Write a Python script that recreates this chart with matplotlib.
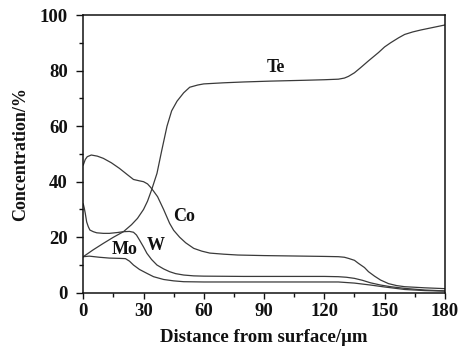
import matplotlib
matplotlib.use("Agg")
import matplotlib.pyplot as plt
from matplotlib.ticker import MultipleLocator

plt.rcParams['font.family'] = ['Liberation Serif', 'DejaVu Serif']
plt.rcParams['font.weight'] = 'bold'

te_x = [0, 5, 10, 15, 20, 24, 27, 30, 32, 34, 36.7, 39, 41.7, 44, 46.7, 50, 53, 57, 60, 70, 80, 93, 110, 120, 127, 130, 132, 135, 138, 142, 147, 150, 153, 157, 160, 164, 168, 174, 180]
te_y = [13, 15.5, 17.8, 20, 22, 24.5, 26.8, 30, 33, 37, 43, 51, 60, 65.5, 69, 72, 74, 74.8, 75.2, 75.6, 75.9, 76.2, 76.5, 76.7, 76.9, 77.3, 77.9, 79.2, 81, 83.5, 86.5, 88.5, 90, 91.8, 93, 93.9, 94.6, 95.5, 96.4]

co_x = [0, 1, 2, 4, 7, 10, 14, 18, 22, 25, 28, 30, 32, 33.5, 35, 37, 40, 43, 45, 48, 51, 55, 59, 63, 70, 77, 90, 110, 120, 127, 130, 132, 135, 137, 140, 142, 145, 148, 152, 156, 160, 170, 180]
co_y = [46, 48, 49, 49.6, 49.2, 48.4, 46.8, 44.8, 42.5, 40.8, 40.3, 40, 39.2, 38, 36.6, 34.6, 30, 25, 22.5, 20, 18, 16, 15, 14.3, 13.9, 13.6, 13.4, 13.2, 13.1, 13, 12.8, 12.4, 11.7, 10.6, 9.1, 7.6, 6, 4.6, 3.3, 2.6, 2.2, 1.8, 1.5]

w_x = [0, 0.5, 1, 1.7, 2.5, 3.3, 5, 6.7, 10, 13, 17, 20, 23, 25, 26.5, 28, 30, 31.7, 34, 36.7, 40, 43, 46, 50, 55, 60, 80, 100, 120, 127, 131, 135, 139, 143, 148, 153, 160, 170, 180]
w_y = [32, 30.5, 28.6, 25.5, 23.8, 22.6, 22, 21.6, 21.4, 21.4, 21.7, 22, 22.1, 21.8, 20.8, 19, 16.5, 14.2, 12, 10, 8.6, 7.6, 6.9, 6.4, 6.1, 6, 5.9, 5.9, 5.9, 5.8, 5.6, 5.2, 4.5, 3.6, 2.8, 2.2, 1.6, 1, 0.7]

mo_x = [0, 3, 8, 13, 18, 21, 23, 25, 28, 31.7, 35, 40, 45, 50, 60, 80, 100, 120, 127, 135, 143, 150, 160, 170, 180]
mo_y = [13, 13.2, 12.8, 12.5, 12.4, 12.3, 11.4, 10, 8.4, 7, 5.8, 4.8, 4.3, 4, 3.9, 3.9, 3.9, 3.9, 3.9, 3.5, 2.8, 2.1, 1.2, 0.8, 0.6]

labels = ["Te", "Co", "Mo", "W"]
label_x = [95.8, 50, 20.8, 36.3]
label_y = [81, 27.6, 15.7, 17.2]

xticks = [0, 30, 60, 90, 120, 150, 180]
yticks = [0, 20, 40, 60, 80, 100]

fig = plt.figure(figsize=(4.6, 3.49), dpi=100)
ax = fig.add_axes([0.181, 0.161, 0.786, 0.796])

lc = '#3a3a3a'
for xs, ys in [(te_x, te_y), (co_x, co_y), (w_x, w_y), (mo_x, mo_y)]:
    ax.plot(xs, ys, color=lc, lw=0.9)

for t, x, y in zip(labels, label_x, label_y):
    ax.text(x, y, t, ha='center', va='center', fontsize=13, fontweight='bold', color='#111111')

ax.set_xlim(0, 180)
ax.set_ylim(0, 100)
ax.set_xticks(xticks)
ax.set_yticks(yticks)
ax.xaxis.set_minor_locator(MultipleLocator(15))
ax.yaxis.set_minor_locator(MultipleLocator(10))
ax.tick_params(which='both', direction='out', labelsize=13.5, width=1.0, color='#111111', labelcolor='#111111')
ax.tick_params(axis='y', which='major', length=5, pad=6)
ax.tick_params(axis='x', which='major', length=4, pad=3)
ax.tick_params(which='minor', length=3)
for lab in ax.get_xticklabels() + ax.get_yticklabels():
    lab.set_fontweight('bold')
for s in ax.spines.values():
    s.set_linewidth(1.1)
    s.set_color('#111111')

ax.set_xlabel('Distance from surface/μm', fontsize=13.5, fontweight='bold', labelpad=7, color='#111111')
ax.set_ylabel('Concentration/%', fontsize=13, fontweight='bold', labelpad=8, color='#111111')

fig.savefig('out.png', dpi=100)
